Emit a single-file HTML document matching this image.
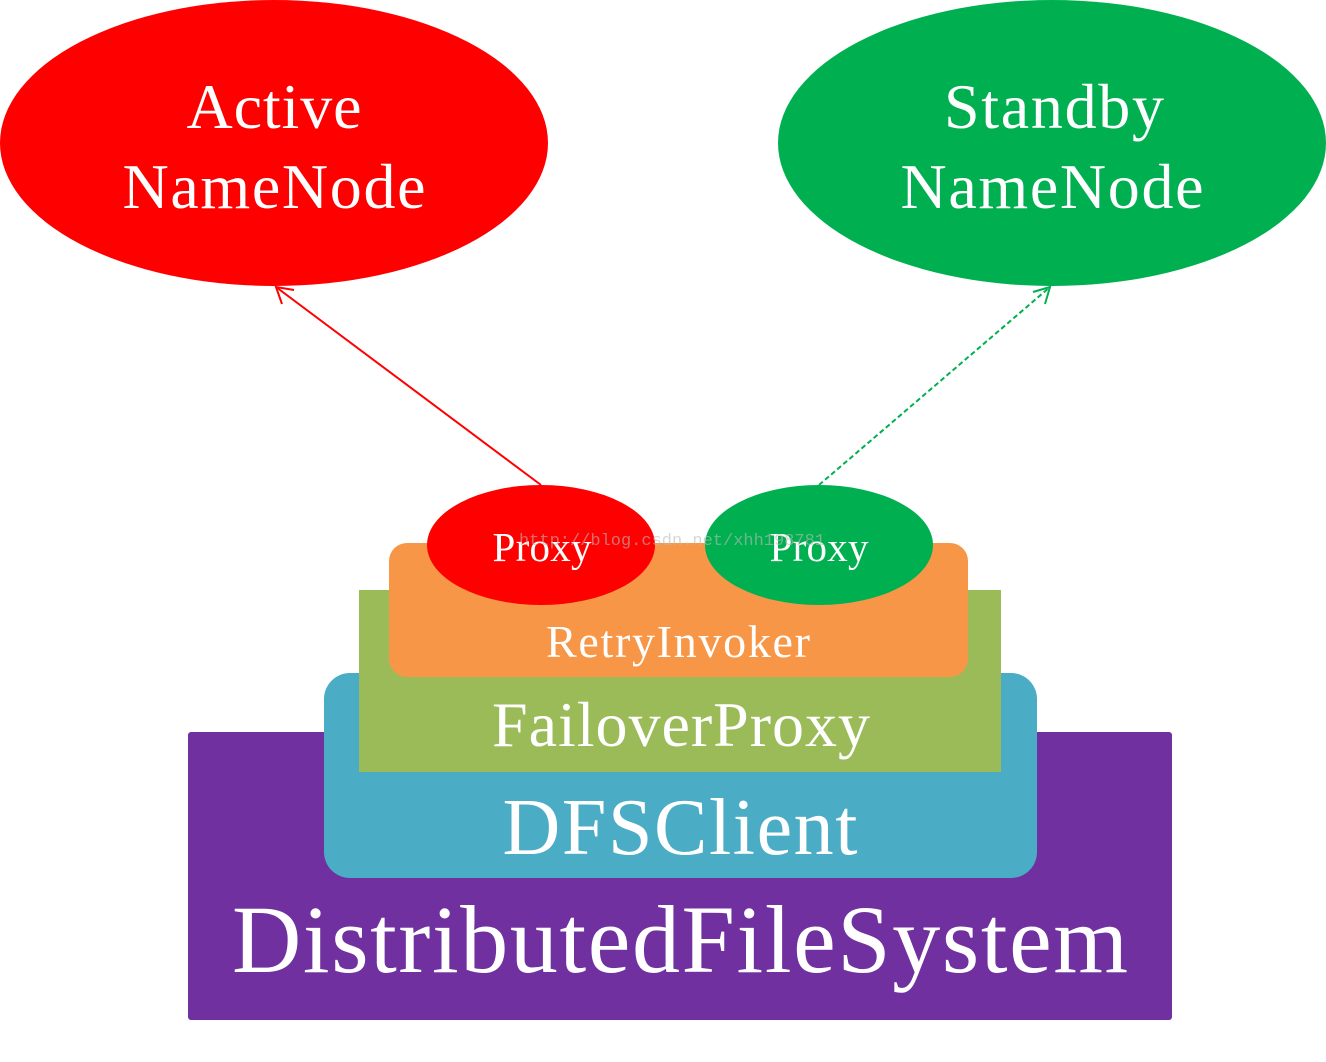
<!DOCTYPE html>
<html><head><meta charset="utf-8"><style>html,body{margin:0;padding:0;background:#fff}</style></head>
<body>
<svg width="1326" height="1057" viewBox="0 0 1326 1057" xmlns="http://www.w3.org/2000/svg" font-family="'Liberation Serif', serif" fill="#fff">
<ellipse cx="274" cy="143" rx="274" ry="143" fill="#ff0000"/>
<ellipse cx="1052" cy="143" rx="274" ry="143" fill="#00b050"/>
<text x="274" y="128" font-size="64" text-anchor="middle" textLength="175">Active</text>
<text x="274" y="208" font-size="64" text-anchor="middle" textLength="303">NameNode</text>
<text x="1054" y="128" font-size="64" text-anchor="middle" textLength="220">Standby</text>
<text x="1052" y="208" font-size="64" text-anchor="middle" textLength="303">NameNode</text>
<line x1="541" y1="485" x2="276" y2="287" stroke="#ff0000" stroke-width="2"/>
<polyline points="282,304 276,287 294,290" fill="none" stroke="#ff0000" stroke-width="2"/>
<line x1="819" y1="485" x2="1050" y2="287" stroke="#00b050" stroke-width="2" stroke-dasharray="5,3"/>
<polyline points="1033,292 1050,287 1045,304" fill="none" stroke="#00b050" stroke-width="2"/>
<rect x="188" y="732" width="984" height="288" rx="3" fill="#7030a0"/>
<rect x="324" y="673" width="713" height="205" rx="26" fill="#4bacc6"/>
<rect x="359" y="590" width="642" height="182" fill="#9bbb59"/>
<rect x="389" y="543" width="579" height="134" rx="18" fill="#f79646"/>
<ellipse cx="541" cy="545" rx="114" ry="60" fill="#ff0000"/>
<ellipse cx="819" cy="545" rx="114" ry="60" fill="#00b050"/>
<text x="542" y="561" font-size="41" text-anchor="middle" textLength="99">Proxy</text>
<text x="819" y="561" font-size="41" text-anchor="middle" textLength="99">Proxy</text>
<text x="672" y="545" font-size="17" font-family="'Liberation Mono', monospace" fill="#bbb" fill-opacity="0.6" text-anchor="middle">http://blog.csdn.net/xhh198781</text>
<text x="678" y="657" font-size="46" text-anchor="middle" textLength="264">RetryInvoker</text>
<text x="681" y="746" font-size="64" text-anchor="middle" textLength="378">FailoverProxy</text>
<text x="680" y="854" font-size="80" text-anchor="middle" textLength="355">DFSClient</text>
<text x="680" y="972" font-size="96" text-anchor="middle" textLength="896">DistributedFileSystem</text>
</svg>
</body></html>
